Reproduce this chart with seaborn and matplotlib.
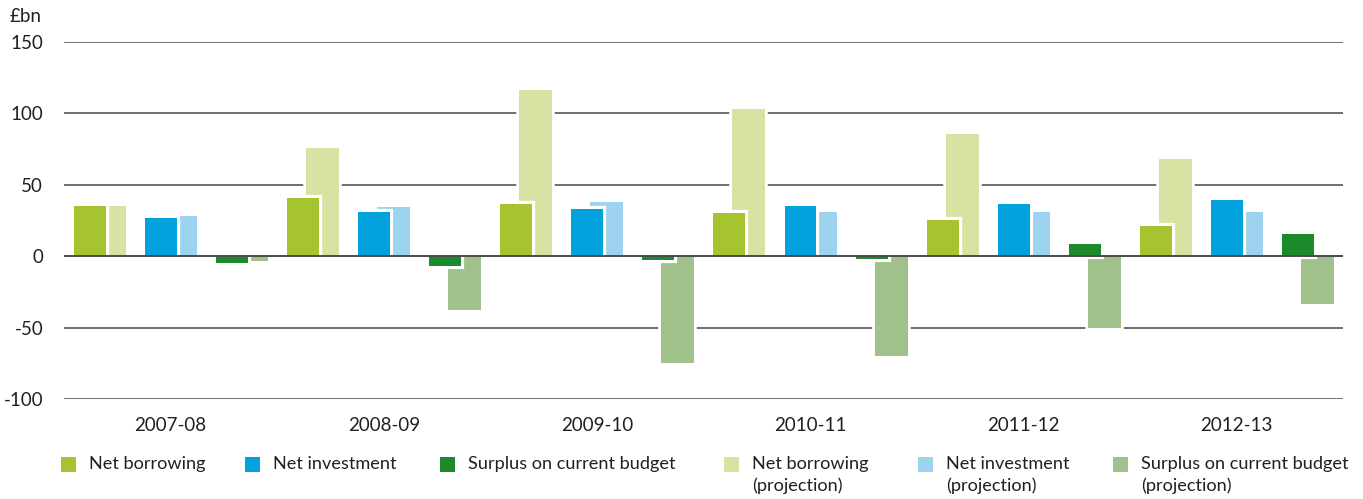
import matplotlib
matplotlib.use("Agg")
import matplotlib.pyplot as plt
import matplotlib.patheffects as pe
from matplotlib.patches import Rectangle
import numpy as np
import pandas as pd
import seaborn as sns

# ---- data (£bn) ----
years = ["2007-08", "2008-09", "2009-10", "2010-11", "2011-12", "2012-13"]
measures = ["Net borrowing", "Net investment", "Surplus on current budget"]

net_borrowing = [35.0, 40.7, 36.3, 30.2, 25.3, 21.3]
net_investment = [26.7, 31.1, 33.2, 35.3, 36.5, 39.3]
surplus_current = [-5.0, -7.0, -3.0, -2.0, 8.5, 15.5]

net_borrowing_proj = [35.0, 75.9, 116.3, 103.2, 85.5, 68.2]
net_investment_proj = [28.1, 34.6, 38.1, 31.1, 31.1, 31.1]
surplus_current_proj = [-3.5, -37.6, -74.7, -69.6, -50.4, -33.7]

y_ticks = [-100, -50, 0, 50, 100, 150]
unit_label = "£bn"
proj_suffix = "(projection)"

# ---- styling ----
colors_actual = {"Net borrowing": "#A5C42F",
                 "Net investment": "#02A2DC",
                 "Surplus on current budget": "#1B8A2B"}
colors_proj = {"Net borrowing": "#D8E3A3",
               "Net investment": "#9DD3EF",
               "Surplus on current budget": "#A0C08C"}
text_color = "#231F20"
fs = 13.5
fs_legend = 13.1

# ---- long-form table: one slot per (year, measure) ----
rows = []
actual_lists = [net_borrowing, net_investment, surplus_current]
proj_lists = [net_borrowing_proj, net_investment_proj, surplus_current_proj]
for yi, yr in enumerate(years):
    for mi, m in enumerate(measures):
        slot = yi * len(measures) + mi
        rows.append({"year": yr, "measure": m, "slot": slot,
                     "actual": actual_lists[mi][yi],
                     "projection": proj_lists[mi][yi]})
df = pd.DataFrame(rows)
df["x_actual"] = df["slot"] - 0.135
df["x_proj"] = df["slot"] + 0.14

sns.set_theme(style="white")
plt.rcParams["font.family"] = ["Lato", "DejaVu Sans"]

fig = plt.figure(figsize=(13.63, 4.99), dpi=100)
W, H = 1363, 499
ax = fig.add_axes([64 / W, (H - 399) / H, (1343 - 64) / W, (399 - 42) / H])

# gridlines behind the bars
for t in y_ticks:
    if t != 0:
        ax.axhline(t, color="#6E6E6E", lw=1.4, zorder=0)

# projection bars (behind), then outturn bars in front
sns.barplot(data=df, x="x_proj", y="projection", hue="measure",
            palette=colors_proj, saturation=1, native_scale=True, dodge=False,
            width=0.465, linewidth=0, legend=False, ax=ax, zorder=2,
            errorbar=None)
n_proj = len(ax.patches)
sns.barplot(data=df, x="x_actual", y="actual", hue="measure",
            palette=colors_actual, saturation=1, native_scale=True, dodge=False,
            width=0.45, linewidth=0, legend=False, ax=ax, zorder=3,
            errorbar=None)

# white halo drawn outside each bar, so bars cut gaps in gridlines and neighbours
for i, p in enumerate(ax.patches):
    lw = 4.5 if i >= n_proj else 4.0
    p.set_path_effects([pe.withStroke(linewidth=lw, foreground="white")])

ax.axhline(0, color="#4A4A4A", lw=1.4, zorder=5)

ax.set_xlim(-0.5, len(df) - 0.5)
ax.set_ylim(-100, 150)
ax.set_yticks(y_ticks)
ax.set_yticklabels([str(t) for t in y_ticks], fontsize=fs, color=text_color)
centers = [yi * len(measures) + 1 for yi in range(len(years))]
ax.set_xticks(centers)
ax.set_xticklabels(years, fontsize=fs, color=text_color)
ax.tick_params(axis="y", length=0, pad=15)
ax.tick_params(axis="x", length=0, pad=13)
ax.set_xlabel("")
ax.set_ylabel("")
for s in ax.spines.values():
    s.set_visible(False)

fig.text(10 / W, 1 - 16 / H, unit_label, fontsize=fs, color=text_color,
         ha="left", va="center")

# ---- legend row ----
legend_items = [(measures[i], colors_actual[measures[i]]) for i in range(3)] + \
               [(measures[i] + "\n" + proj_suffix, colors_proj[measures[i]]) for i in range(3)]
legend_x = [61, 245, 440, 724, 918, 1113]
sq = 15
top = 457
for (lab, col), lx in zip(legend_items, legend_x):
    fig.patches.append(Rectangle((lx / W, 1 - (top + sq) / H), sq / W, sq / H,
                                 transform=fig.transFigure, facecolor=col,
                                 edgecolor="none"))
    fig.text((lx + 28) / W, 1 - (top - 1) / H, lab, fontsize=fs_legend,
             color=text_color, ha="left", va="top", linespacing=1.4)

fig.savefig("out.png", dpi=100)
